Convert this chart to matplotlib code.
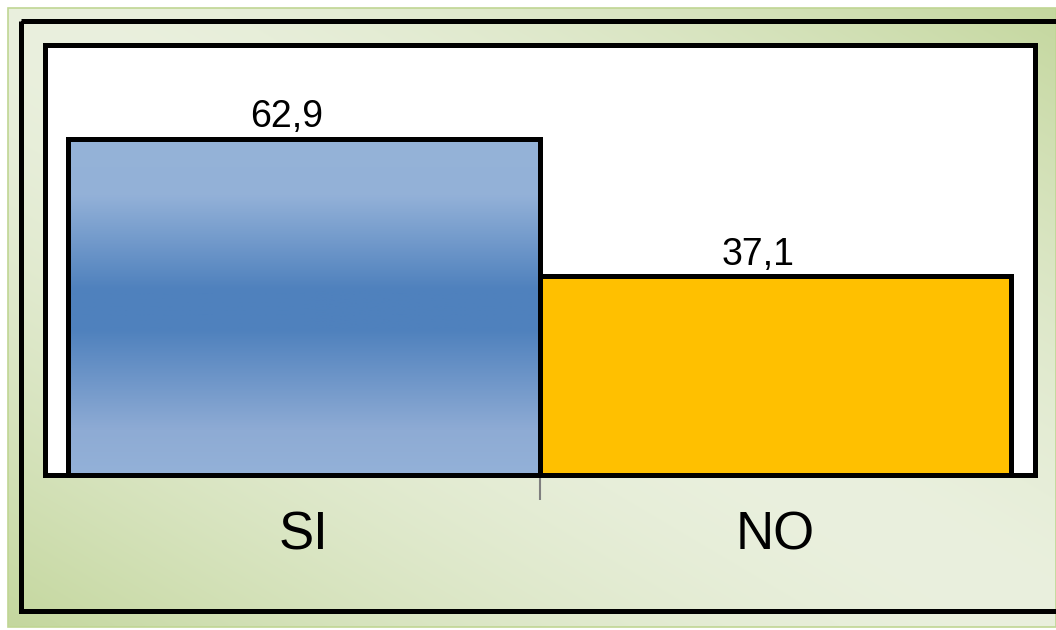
import numpy as np
import matplotlib
matplotlib.use("Agg")
import matplotlib.pyplot as plt
from matplotlib.colors import LinearSegmentedColormap
from matplotlib.patches import Rectangle

plt.rcParams['font.family'] = ['Liberation Sans', 'DejaVu Sans']

categories = ["SI", "NO"]
values = [62.9, 37.1]
value_labels = ["62,9", "37,1"]

W, H, DPI = 1056, 630, 100
fig = plt.figure(figsize=(W / DPI, H / DPI), dpi=DPI)
fig.patch.set_facecolor("white")

# --- backdrop: diagonal green gradient panel with a black frame (pixel coords)
bg = fig.add_axes([0, 0, 1, 1])
bg.set_xlim(0, W)
bg.set_ylim(H, 0)
bg.axis("off")

green = np.array([0xc4, 0xd7, 0x9e]) / 255
light = np.array([0xea, 0xf0, 0xde]) / 255
nx, ny = 400, 240
gx = np.linspace(0, 1, nx)[None, :]
gy = np.linspace(0, 1, ny)[:, None]          # 0 at top
t = (gx + (1 - gy)) / 2                       # 0 bottom-left, 1 top-right
w = np.clip(np.abs(t - 0.5) * 2, 0, 1) ** 1.6
img = light[None, None, :] * (1 - w[..., None]) + green[None, None, :] * w[..., None]
bg.imshow(img, extent=(8, W, 627, 8), aspect="auto", interpolation="bilinear", zorder=0)
bg.add_patch(Rectangle((8, 8), W - 8, 619, fill=False, edgecolor="#c0d694", lw=1.2, zorder=1))
bg.add_patch(Rectangle((20.5, 20.5), 1037, 590, fill=False, edgecolor="black", lw=3.6, zorder=2))

# --- main chart
ax = fig.add_axes([44.5 / W, 1 - 474.5 / H, 990 / W, 430 / H])
ax.set_facecolor("white")
for s in ax.spines.values():
    s.set_linewidth(3.6)
    s.set_color("black")

x = np.arange(len(categories))
bar_colors = ["#4f81bd", "#ffc000"]
bars = ax.bar(x, values, width=1.0, color=bar_colors, edgecolor="black", linewidth=3.6, zorder=3)

# vertical light-dark-light shading on the first bar
blue_cmap = LinearSegmentedColormap.from_list(
    "blue_band",
    [(0.0, "#93b1d8"), (0.13, "#8eabd4"), (0.43, "#4f81bd"), (0.55, "#4f81bd"),
     (0.83, "#93b1d8"), (1.0, "#95b3d7")])
b0 = bars[0]
x0, y0 = b0.get_x(), b0.get_y()
grad = np.linspace(0, 1, 256)[:, None]
im = ax.imshow(grad, cmap=blue_cmap, origin="lower", aspect="auto",
               extent=(x0, x0 + b0.get_width(), y0, y0 + b0.get_height()), zorder=3)
im.set_clip_path(b0)
b0.set_facecolor("none")
b0.set_zorder(4)

ax.set_xlim(-0.55, 1.55)
ax.set_ylim(0, 80.5)
ax.set_yticks([])
ax.set_xticks(x)
ax.set_xticklabels(categories, fontsize=38)
ax.tick_params(axis="x", length=0, pad=26)
ax.set_xticks([0.5], minor=True)
ax.tick_params(axis="x", which="minor", length=18, width=1.5, color="#7f7f7f")

for xi, v, lab in zip(x, values, value_labels):
    ax.annotate(lab, (xi, v), xytext=(-12, 8), textcoords="offset points",
                ha="center", va="baseline", fontsize=27, color="black", zorder=5)

fig.savefig("out.png", dpi=DPI)
